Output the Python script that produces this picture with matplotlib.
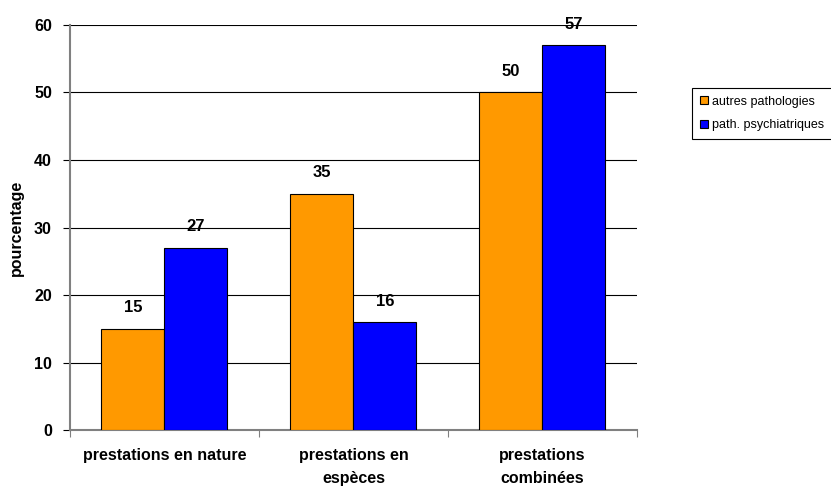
import matplotlib
matplotlib.use('Agg')
import matplotlib.pyplot as plt
import numpy as np

categories = ['prestations en nature', 'prestations en\nespèces', 'prestations\ncombinées']
autres = [15, 35, 50]
psy = [27, 16, 57]
series_names = ['autres pathologies', 'path. psychiatriques']

plt.rcParams['font.family'] = ['Liberation Sans', 'DejaVu Sans']

fig = plt.figure(figsize=(8.31, 4.90), dpi=100)
ax = fig.add_axes([0.0842, 0.1224, 0.6823, 0.8266])

x = np.arange(len(categories))
w = 1 / 3
b1 = ax.bar(x - w / 2, autres, w, color='#ff9900', edgecolor='black', linewidth=0.8,
            label=series_names[0], zorder=3)
b2 = ax.bar(x + w / 2, psy, w, color='#0000ff', edgecolor='black', linewidth=0.8,
            label=series_names[1], zorder=3)

# value labels above each bar
for bars, vals in ((b1, autres), (b2, psy)):
    for r, v in zip(bars, vals):
        ax.text(r.get_x() + r.get_width() / 2, v + 3.1, str(v), ha='center', va='center',
                fontsize=12, fontweight='bold', clip_on=False)

ax.set_xlim(-0.5, 2.5)
ax.set_ylim(0, 60)
ax.set_yticks(range(0, 61, 10))
ax.yaxis.grid(True, color='black', linewidth=0.8, zorder=0)
ax.set_xticks([-0.5, 0.5, 1.5, 2.5])
ax.set_xticklabels([])
ax.set_xticks(x, minor=True)
ax.set_xticklabels(categories, minor=True, fontsize=11.5, fontweight='bold', linespacing=1.65)
ax.tick_params(axis='x', which='minor', length=0, pad=13)
ax.tick_params(axis='x', which='major', length=5, color='gray')
ax.tick_params(axis='y', length=5, color='black', labelsize=11.5, pad=8)
for t in ax.get_yticklabels():
    t.set_fontweight('bold')

for s in ('top', 'right'):
    ax.spines[s].set_visible(False)
for s in ('left', 'bottom'):
    ax.spines[s].set_color('gray')
    ax.spines[s].set_linewidth(1.5)

ax.set_ylabel('pourcentage', fontsize=11.5, fontweight='bold', labelpad=7)

leg = fig.legend(loc='upper left', bbox_to_anchor=(692 / 831, 1 - 88 / 490), fontsize=9,
                 handlelength=0.65, handleheight=0.65, handletextpad=0.35, borderpad=0.6,
                 borderaxespad=0, labelspacing=0.95, fancybox=False, edgecolor='black',
                 framealpha=1)
leg.get_frame().set_linewidth(0.8)

fig.savefig('out.png', dpi=100)
